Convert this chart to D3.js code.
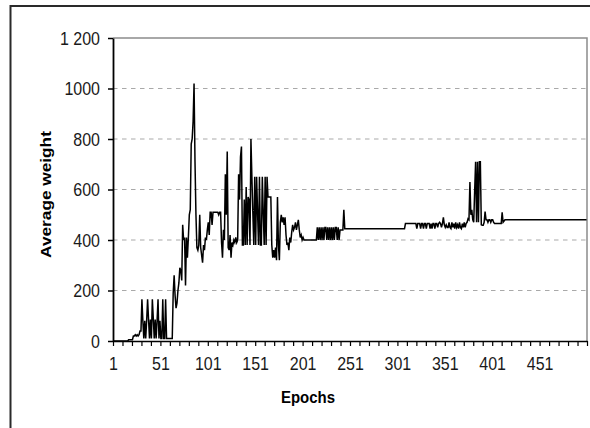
<!DOCTYPE html>
<html>
<head>
<meta charset="utf-8">
<script src="https://cdn.jsdelivr.net/npm/d3@7"></script>
<style>
  body { margin: 0; background: #fff; }
  svg { display: block; }
  text { font-family: "Liberation Sans", Arial, sans-serif; }
</style>
</head>
<body>
<svg id="chart" width="590" height="428"></svg>
<script>
// Average weight per training epoch (epochs 1..500)
const avgWeight = [
  // 1-10
  0,0,0,0,0,0,0,0,0,0,
  // 11-20
  0,0,0,0,0,0,5,5,5,5,
  // 21-30
  5,20,20,25,20,25,20,25,40,40,
  // 31-40
  165,80,10,80,10,80,165,85,10,85,
  // 41-50
  10,165,90,10,85,10,80,165,10,80,
  // 51-60
  10,10,165,10,10,165,10,10,10,10,
  // 61-70
  10,10,10,190,260,180,130,150,200,230,
  // 71-80
  290,280,240,460,400,410,220,410,330,410,
  // 81-90
  500,520,780,800,870,1020,710,500,370,360,
  // 91-100
  380,500,370,340,310,380,360,410,400,440,
  // 101-110
  470,420,510,510,460,510,510,510,510,510,
  // 111-120
  510,500,510,510,390,330,440,400,660,500,
  // 121-130
  750,370,360,420,330,390,380,400,390,410,
  // 131-140
  390,400,660,560,730,770,380,380,560,380,
  // 141-150
  610,380,570,560,380,800,650,510,380,650,
  // 151-160
  380,650,510,380,650,380,380,650,510,380,
  // 161-170
  650,380,650,570,570,570,570,380,330,360,
  // 171-180
  330,370,320,570,380,320,470,500,470,490,
  // 181-190
  460,490,420,380,390,360,410,390,430,460,
  // 191-200
  440,450,470,440,460,480,440,410,420,400,
  // 201-210
  410,400,400,400,400,400,400,400,400,400,
  // 211-220
  400,400,400,400,400,450,400,450,400,450,
  // 221-230
  400,450,400,450,450,400,450,400,450,400,
  // 231-240
  450,400,450,400,450,450,400,450,400,440,
  // 241-250
  440,440,440,520,445,445,445,445,445,445,
  // 251-260
  445,445,445,445,445,445,445,445,445,445,
  // 261-270
  445,445,445,445,445,445,445,445,445,445,
  // 271-280
  445,445,445,445,445,445,445,445,445,445,
  // 281-290
  445,445,445,445,445,445,445,445,445,445,
  // 291-300
  445,445,445,445,445,445,445,445,445,445,
  // 301-310
  445,445,445,445,445,445,445,445,465,465,
  // 311-320
  465,465,465,465,465,465,465,465,465,465,
  // 321-330
  445,465,465,465,445,465,465,445,465,465,
  // 331-340
  445,465,465,465,445,465,445,465,465,445,
  // 341-350
  465,465,450,465,470,465,450,465,490,460,
  // 351-360
  450,460,450,450,470,450,445,470,450,465,
  // 361-370
  445,470,450,460,445,470,450,445,465,450,
  // 371-380
  470,450,465,470,484,480,630,500,520,480,
  // 381-390
  470,594,710,470,710,470,710,710,460,458,
  // 391-400
  458,470,513,480,480,470,480,480,470,480,
  // 401-410
  480,470,465,465,465,465,465,465,465,465,
  // 411-420
  510,470,475,480,480,480,480,480,480,480,
  // 421-430
  480,480,480,480,480,480,480,480,480,480,
  // 431-440
  480,480,480,480,480,480,480,480,480,480,
  // 441-450
  480,480,480,480,480,480,480,480,480,480,
  // 451-460
  480,480,480,480,480,480,480,480,480,480,
  // 461-470
  480,480,480,480,480,480,480,480,480,480,
  // 471-480
  480,480,480,480,480,480,480,480,480,480,
  // 481-490
  480,480,480,480,480,480,480,480,480,480,
  // 491-500
  480,480,480,480,480,480,480,480,480,480
];

const yTickValues = [0, 200, 400, 600, 800, 1000, 1200];
const yTickLabels = ["0", "200", "400", "600", "800", "1000", "1 200"];
const xLabelEpochs = [1, 51, 101, 151, 201, 251, 301, 351, 401, 451];
const xTitle = "Epochs";
const yTitle = "Average weight";

const svg = d3.select("#chart");
const plot = { left: 113, right: 587, top: 38, bottom: 341 };
const textStretch = 1.15;

const epochCount = avgWeight.length;
const x = d3.scaleLinear().domain([0.5, epochCount + 0.5]).range([plot.left, plot.right]);
const y = d3.scaleLinear().domain([0, 1200]).range([plot.bottom, plot.top]);

// outer chart frame
svg.append("rect")
  .attr("x", 10.5).attr("y", 6)
  .attr("width", 640).attr("height", 480)
  .attr("fill", "#fff")
  .attr("stroke", "#2a2a2a").attr("stroke-width", 2);

// plot area border (top and right)
svg.append("path")
  .attr("d", `M${plot.left},${plot.top}H${plot.right}V${plot.bottom}`)
  .attr("fill", "none")
  .attr("stroke", "#8c8c8c").attr("stroke-width", 1.5);

// dashed horizontal gridlines
svg.append("g")
  .selectAll("line")
  .data(yTickValues.filter(v => v > 0 && v < 1200))
  .join("line")
  .attr("x1", plot.left).attr("x2", plot.right)
  .attr("y1", d => y(d)).attr("y2", d => y(d))
  .attr("stroke", "#a9a9a9").attr("stroke-width", 1.2)
  .attr("stroke-dasharray", "4.5,4.5");

// the weight series
const line = d3.line()
  .x((d, i) => x(i + 1))
  .y(d => y(d));

svg.append("path")
  .datum(avgWeight)
  .attr("d", line)
  .attr("fill", "none")
  .attr("stroke", "#000")
  .attr("stroke-width", 1.5)
  .attr("stroke-linejoin", "miter");

// x axis: tick marks every 10 epochs at category boundaries
const xTickPositions = d3.range(0, epochCount + 1, 10).map(v => v + 0.5);
const xAxis = d3.axisBottom(x).tickValues(xTickPositions).tickSize(5).tickSizeOuter(0).tickFormat("");
const gx = svg.append("g").attr("transform", `translate(0,${plot.bottom})`).call(xAxis);
gx.select(".domain").attr("stroke", "#000").attr("stroke-width", 1.5);
gx.selectAll(".tick line").attr("stroke", "#000").attr("stroke-width", 1.2);

// y axis
const yAxis = d3.axisLeft(y).tickValues(yTickValues).tickSize(5).tickSizeOuter(0).tickFormat("");
const gy = svg.append("g").attr("transform", `translate(${plot.left},0)`).call(yAxis);
gy.select(".domain").attr("stroke", "#000").attr("stroke-width", 1.8);
gy.selectAll(".tick line").attr("stroke", "#000").attr("stroke-width", 1.5);

// y tick labels
svg.append("g")
  .selectAll("text")
  .data(yTickValues)
  .join("text")
  .attr("transform", d => `translate(100,${y(d) + 6.6}) scale(1,${textStretch})`)
  .attr("text-anchor", "end")
  .attr("font-size", 16)
  .attr("fill", "#1a1a1a")
  .text((d, i) => yTickLabels[i]);

// x tick labels
svg.append("g")
  .selectAll("text")
  .data(xLabelEpochs)
  .join("text")
  .attr("transform", d => `translate(${x(d)},370) scale(1,${textStretch})`)
  .attr("text-anchor", "middle")
  .attr("font-size", 16)
  .attr("fill", "#1a1a1a")
  .text(d => d);

// axis titles
svg.append("text")
  .attr("transform", `translate(308,403) scale(1,${textStretch})`)
  .attr("text-anchor", "middle")
  .attr("font-size", 15)
  .attr("font-weight", "bold")
  .attr("fill", "#000")
  .text(xTitle);

svg.append("text")
  .attr("transform", `translate(51,194.5) scale(1,${textStretch}) rotate(-90)`)
  .attr("text-anchor", "middle")
  .attr("font-size", 15)
  .attr("font-weight", "bold")
  .attr("fill", "#000")
  .text(yTitle);
</script>
</body>
</html>
